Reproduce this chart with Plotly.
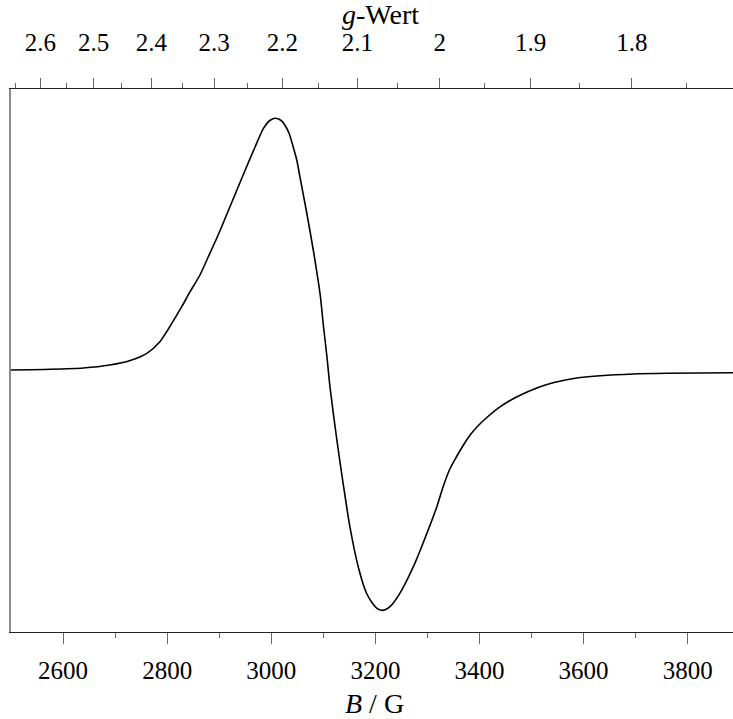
import plotly.graph_objects as go

# Magnetic field B / G
field_G = [2500, 2575, 2639, 2690, 2729, 2761, 2786, 2805, 2828, 2844, 2863, 2882,
           2898, 2914, 2934, 2950, 2969, 2985, 2996, 3007, 3019, 3026, 3034, 3042,
           3049, 3055, 3068, 3081, 3094, 3100, 3107, 3113, 3126, 3138, 3151, 3167,
           3183, 3194, 3203, 3212, 3220, 3228, 3247, 3273, 3299, 3318, 3330, 3343,
           3355, 3368, 3382, 3396, 3412, 3440, 3472, 3503, 3525, 3545, 3565, 3590,
           3632, 3696, 3760, 3887]
# EPR derivative signal (arbitrary units)
signal = [0, 0.7, 2, 5, 9.5, 16.7, 28.3, 43.3, 63.3, 78.3, 95, 116.7,
          135, 155, 180, 200, 223.3, 241.7, 249, 251.7, 249.5, 245, 237, 223.3,
          210, 193.3, 157.5, 119, 75, 45, 13, -18, -70, -113.3, -156.7, -196.7,
          -223.3, -233, -238.3, -240.3, -239.5, -236.7, -223.3, -196.7, -163.3, -136.7, -117, -99,
          -87.5, -76, -65, -56.5, -48.5, -36.7, -26.7, -19.5, -15.3, -12.3, -10, -7.8,
          -5.7, -4, -3.3, -2.7]

# top axis: g-values (g * B = const)
g_const = 6647.0
g_major = [2.6, 2.5, 2.4, 2.3, 2.2, 2.1, 2.0, 1.9, 1.8]
g_major_labels = ["2.6", "2.5", "2.4", "2.3", "2.2", "2.1", "2", "1.9", "1.8"]
g_minor = [2.65, 2.55, 2.45, 2.35, 2.25, 2.15, 2.05, 1.95, 1.85, 1.75]

b_ticks = [2600, 2800, 3000, 3200, 3400, 3600, 3800]
b_minor = [2700, 2900, 3100, 3300, 3500, 3700]

x_range = [2500, 3887]
y_range = [-262, 281]

FONT = "Liberation Serif, 'Times New Roman', Times, serif"

fig = go.Figure()
fig.add_trace(go.Scatter(x=field_G, y=signal, mode="lines",
                         line=dict(color="black", width=1.6, shape="spline", smoothing=0.7),
                         showlegend=False, hoverinfo="skip"))
fig.add_trace(go.Scatter(x=field_G, y=signal, mode="lines", xaxis="x2",
                         line=dict(color="rgba(0,0,0,0)", width=0),
                         showlegend=False, hoverinfo="skip"))

W, H = 733, 719
top_m, bot_m, left_m = 89, 87, 11
plot_h = H - top_m - bot_m
plot_w = W - left_m

fig.update_layout(
    width=W, height=H,
    margin=dict(l=left_m, r=0, t=top_m, b=bot_m),
    paper_bgcolor="white", plot_bgcolor="white",
    font=dict(family=FONT, size=25, color="black"),
    xaxis=dict(range=x_range, showgrid=False, zeroline=False,
               showline=True, linecolor="#222", linewidth=1.3,
               ticks="outside", ticklen=11, tickwidth=1.3, tickcolor="#666",
               tickmode="array", tickvals=b_ticks, ticktext=[str(v) for v in b_ticks],
               ticklabelstandoff=5,
               minor=dict(tickmode="array", tickvals=b_minor, ticks="outside",
                          ticklen=5, tickwidth=1.3, tickcolor="#666"),
               tickfont=dict(family=FONT, size=25, color="black")),
    xaxis2=dict(range=x_range, overlaying="x", side="top", showgrid=False, zeroline=False,
                showline=True, linecolor="#222", linewidth=1.3,
                ticks="outside", ticklen=10, tickwidth=1.3, tickcolor="#666",
                tickmode="array", tickvals=[g_const / g for g in g_major], ticktext=g_major_labels,
                ticklabelstandoff=17,
                minor=dict(tickmode="array", tickvals=[g_const / g for g in g_minor], ticks="outside",
                           ticklen=5, tickwidth=1.3, tickcolor="#666"),
                tickfont=dict(family=FONT, size=25, color="black")),
    yaxis=dict(range=y_range, showgrid=False, zeroline=False, showticklabels=False,
               ticks="", showline=True, linecolor="#8c8c8c", linewidth=2),
    annotations=[
        dict(text="<i>g</i>-Wert", x=(380 - left_m) / plot_w, y=1 + (top_m - 14) / plot_h,
             xref="paper", yref="paper", yanchor="middle", showarrow=False,
             font=dict(family=FONT, size=28, color="black")),
        dict(text="<i>B</i> / G", x=(375 - left_m) / plot_w, y=-(703 - (H - bot_m)) / plot_h,
             xref="paper", yref="paper", yanchor="middle", showarrow=False,
             font=dict(family=FONT, size=28, color="black")),
    ],
)

fig.write_html("out.html")
